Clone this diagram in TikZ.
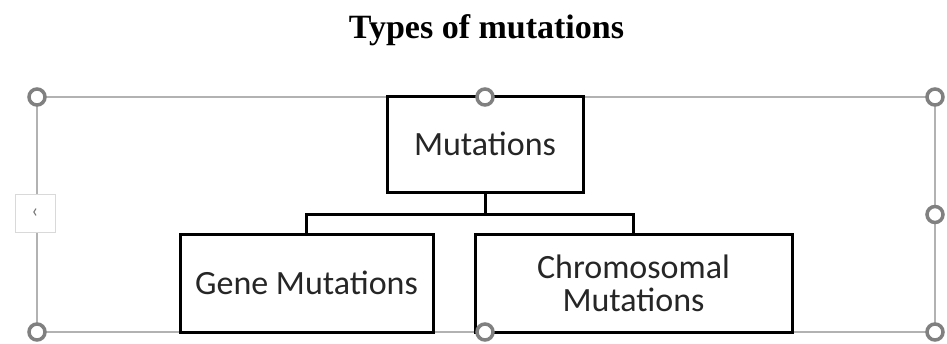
\documentclass[tikz,border=0pt]{standalone}
\usepackage{fontspec}
\setmainfont{Carlito}
\newfontfamily\titlefont{Liberation Serif}
\tikzset{
  mutbox/.style={draw,line width=3pt,fill=white,align=center,inner sep=0pt,
    text=black!85,font=\fontsize{34}{33}\selectfont},
  conn/.style={line width=3pt},
  selframe/.style={draw=black!30,line width=2pt},
  handle/.style={draw=black!50,line width=3.5pt,fill=white},
}
\begin{document}
\begin{tikzpicture}[x=1pt,y=-1pt]
\useasboundingbox (0,0) rectangle (947,343);
\node[anchor=base,font=\titlefont\bfseries\fontsize{34}{36}\selectfont] (title) at (486.5,38) {Types of mutations};
% selection frame
\draw[selframe] (37,97) rectangle (935,332);
% boxes
\node[mutbox,minimum width=196pt,minimum height=96pt] (mut) at (485,144) {Mutations};
\node[mutbox,minimum width=253pt,minimum height=98pt] (gene) at (306.5,283) {Gene Mutations};
\node[mutbox,minimum width=317pt,minimum height=98pt] (chrom) at (633.5,283) {Chromosomal\\Mutations};
% connectors
\draw[conn] (mut.south) -- ++(0,21) coordinate (bus);
\draw[conn] (gene.north) |- (bus) -| (chrom.north);
% handles
\node[draw=black!15,line width=1pt,fill=white,minimum width=40pt,minimum height=38pt,
  text=black!55,font=\fontsize{20}{20}\selectfont] (sidehandle) at (35,213) {‹};
\foreach \hx/\hy in {37/97,485/97,935/97,935/214.5,37/332,485/332,935/332}
  \draw[handle] (\hx,\hy) circle (8pt);
\end{tikzpicture}
\end{document}
